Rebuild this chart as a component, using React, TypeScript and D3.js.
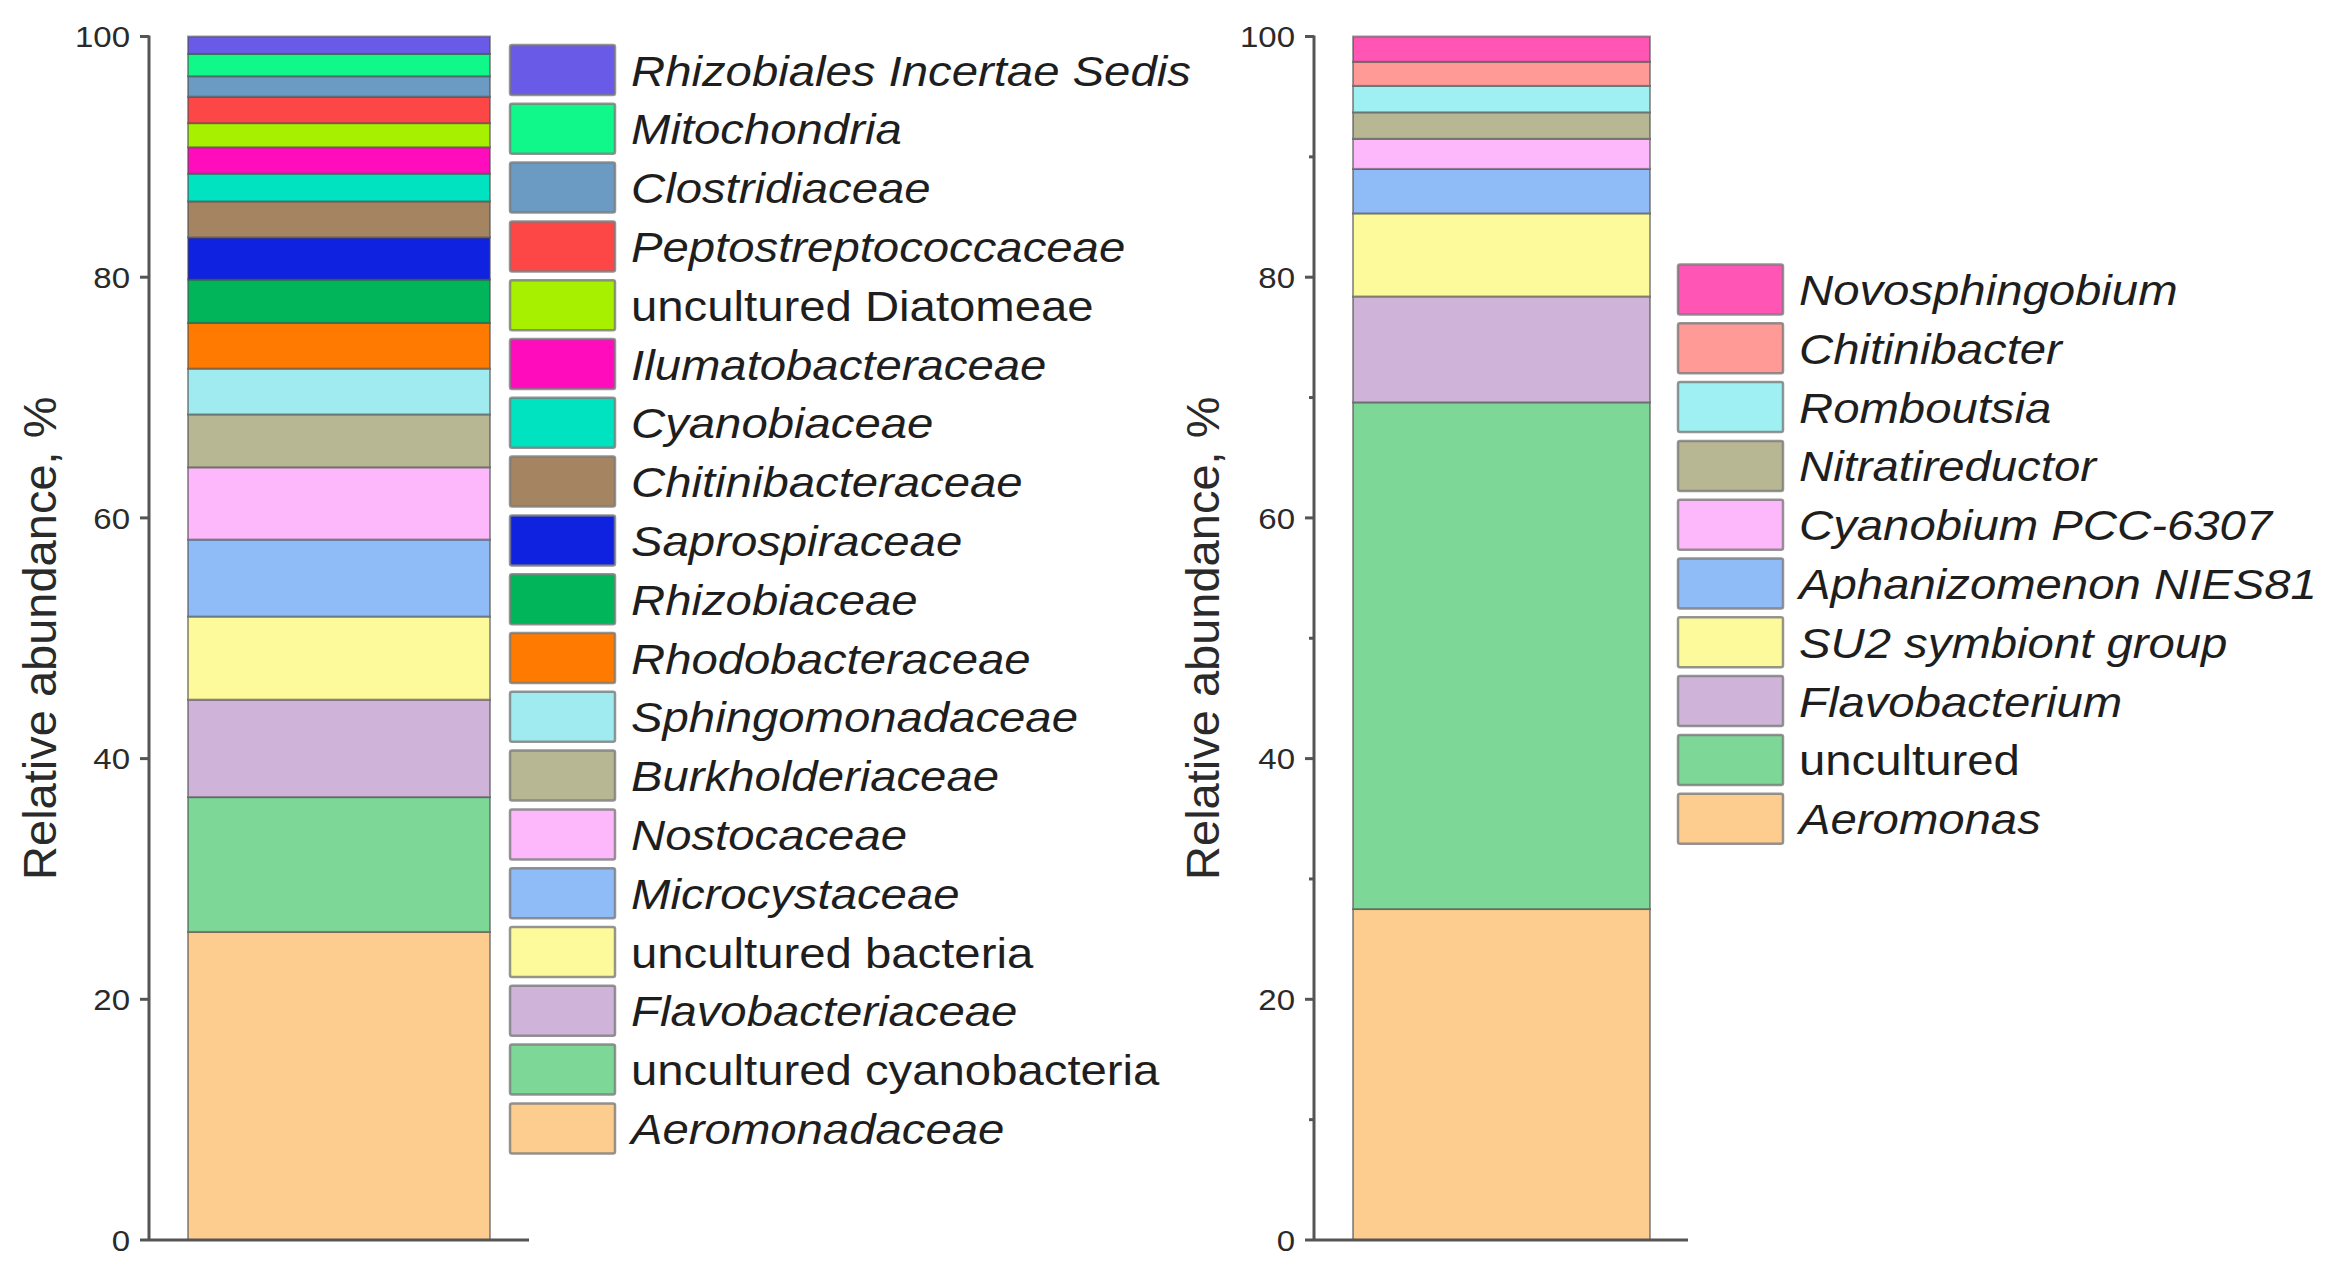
import * as d3 from "d3";

// Left panel: families, listed top of the stack first
const familyNames = [
  "Rhizobiales Incertae Sedis",
  "Mitochondria",
  "Clostridiaceae",
  "Peptostreptococcaceae",
  "uncultured Diatomeae",
  "Ilumatobacteraceae",
  "Cyanobiaceae",
  "Chitinibacteraceae",
  "Saprospiraceae",
  "Rhizobiaceae",
  "Rhodobacteraceae",
  "Sphingomonadaceae",
  "Burkholderiaceae",
  "Nostocaceae",
  "Microcystaceae",
  "uncultured bacteria",
  "Flavobacteriaceae",
  "uncultured cyanobacteria",
  "Aeromonadaceae"
];
const familyValues = [1.45, 1.85, 1.7, 2.2, 2.0, 2.2, 2.3, 3.0, 3.5, 3.6, 3.8, 3.8, 4.4, 6.0, 6.4, 6.9, 8.1, 11.2, 25.6];
const familyColors = [
  "#6a5ae8", "#10f88a", "#6b9bc3", "#fd4646", "#a6f000", "#ff0cbc", "#00e3c0",
  "#a58462", "#0f22e0", "#00b55a", "#ff7a00", "#a0ebf0", "#b7b794", "#fdb8fb",
  "#8fbcf7", "#fdfa9c", "#cfb3d9", "#7dd898", "#fdcd90"
];
const familyUpright = ["uncultured Diatomeae", "uncultured bacteria", "uncultured cyanobacteria"];

// Right panel: genera, listed top of the stack first
const genusNames = [
  "Novosphingobium",
  "Chitinibacter",
  "Romboutsia",
  "Nitratireductor",
  "Cyanobium PCC-6307",
  "Aphanizomenon NIES81",
  "SU2 symbiont group",
  "Flavobacterium",
  "uncultured",
  "Aeromonas"
];
const genusValues = [2.1, 2.0, 2.2, 2.2, 2.5, 3.7, 6.9, 8.8, 42.1, 27.5];
const genusColors = [
  "#ff55b4", "#ff9a96", "#9ff0f2", "#b7b794", "#fdb8fb",
  "#8fbcf7", "#fdfa9c", "#cfb3d9", "#7dd898", "#fdcd90"
];
const genusUpright = ["uncultured"];

const majorTicks = [0, 20, 40, 60, 80, 100];
const minorTickValues = [10, 30, 50, 70, 90];

const FONT = "'Liberation Sans', Arial, Helvetica, sans-serif";

function StackPanel({
  names,
  values,
  colors,
  upright,
  axisX,
  barLeft,
  barRight,
  axisEnd,
  legendX,
  legendTop,
  labelX,
  minor
}: {
  names: string[];
  values: number[];
  colors: string[];
  upright: string[];
  axisX: number;
  barLeft: number;
  barRight: number;
  axisEnd: number;
  legendX: number;
  legendTop: number;
  labelX: number;
  minor: boolean;
}) {
  const y = d3.scaleLinear().domain([0, 100]).range([1240, 36.5]);
  const color = d3.scaleOrdinal<string, string>().domain(names).range(colors);
  const row: Record<string, number> = Object.fromEntries(names.map((n, i) => [n, values[i]]));
  const series = d3.stack<Record<string, number>>().keys([...names].reverse())([row]);

  const swatchW = 105;
  const swatchH = 50;
  const pitch = 58.8;
  const plotMid = (y(0) + y(100)) / 2;

  return (
    <g>
      {series.map((s) => {
        const [y0, y1] = s[0];
        return (
          <rect
            key={s.key}
            x={barLeft}
            y={y(y1)}
            width={barRight - barLeft}
            height={y(y0) - y(y1)}
            fill={color(s.key)}
            stroke="#4a4a4a"
            strokeOpacity={0.55}
            strokeWidth={2}
          />
        );
      })}

      <line x1={axisX} x2={axisX} y1={y(100) - 1} y2={y(0)} stroke="#555" strokeWidth={3} />
      <line x1={axisX} x2={axisEnd} y1={y(0)} y2={y(0)} stroke="#555" strokeWidth={3} />
      {majorTicks.map((t) => (
        <g key={t}>
          <line x1={axisX - 9} x2={axisX} y1={y(t)} y2={y(t)} stroke="#555" strokeWidth={3} />
          <text
            transform={`translate(${axisX - 19},${y(t)}) scale(1.1,1)`}
            dy="0.36em"
            textAnchor="end"
            fontSize={30}
            fontFamily={FONT}
            fill="#2a2a2a"
          >
            {t}
          </text>
        </g>
      ))}
      {minor &&
        minorTickValues.map((t) => (
          <line key={t} x1={axisX - 5} x2={axisX} y1={y(t)} y2={y(t)} stroke="#555" strokeWidth={3} />
        ))}

      <text
        transform={`translate(${labelX},${plotMid}) rotate(-90)`}
        textAnchor="middle"
        dy="0.36em"
        fontSize={47}
        fontFamily={FONT}
        fill="#2a2a2a"
      >
        Relative abundance, %
      </text>

      {names.map((n, i) => {
        const top = legendTop + i * pitch;
        return (
          <g key={n}>
            <rect
              x={legendX}
              y={top}
              width={swatchW}
              height={swatchH}
              fill={color(n)}
              stroke="#7a7a7a"
              strokeOpacity={0.8}
              strokeWidth={2.5}
              rx={2}
            />
            <text
              transform={`translate(${legendX + 121},${top + swatchH / 2 + 15.5}) scale(1.1,1)`}
              fontSize={43}
              fontFamily={FONT}
              fontStyle={upright.includes(n) ? "normal" : "italic"}
              fill="#1e1e1e"
            >
              {n}
            </text>
          </g>
        );
      })}
    </g>
  );
}

export default function App() {
  return (
    <svg
      width={2341}
      height={1281}
      viewBox="0 0 2341 1281"
      style={{ position: "absolute", left: 0, top: 0, background: "#fff" }}
    >
      <rect width={2341} height={1281} fill="#fff" />
      <StackPanel
        names={familyNames}
        values={familyValues}
        colors={familyColors}
        upright={familyUpright}
        axisX={149}
        barLeft={188}
        barRight={490}
        axisEnd={529}
        legendX={510}
        legendTop={45}
        labelX={39}
        minor={false}
      />
      <StackPanel
        names={genusNames}
        values={genusValues}
        colors={genusColors}
        upright={genusUpright}
        axisX={1314}
        barLeft={1353}
        barRight={1650}
        axisEnd={1688}
        legendX={1678}
        legendTop={264.5}
        labelX={1202}
        minor={true}
      />
    </svg>
  );
}
